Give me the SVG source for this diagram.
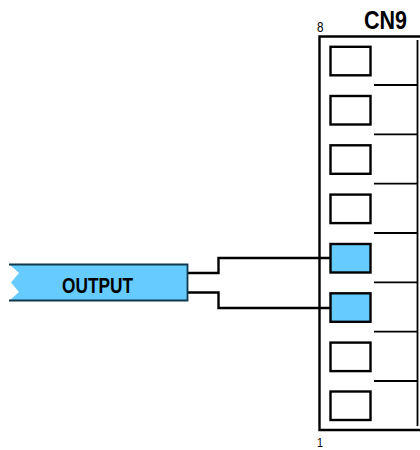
<svg xmlns="http://www.w3.org/2000/svg" width="420" height="450" viewBox="0 0 420 450">
<style>
.pin{fill:#fff;stroke:#000;stroke-width:2.4}
.on{fill:#66ccff}
.ln{fill:none;stroke:#000;stroke-width:2.4}
.th{fill:none;stroke:#000;stroke-width:1.8}
text{font-family:"Liberation Sans",Arial,sans-serif;fill:#000}
.b{font-weight:bold}
</style>
<g id="connectors">
<path class="ln" d="M188 273H218.500V258H331"/>
<path class="ln" d="M188 292.500H218.500V308H331"/>
</g>
<g id="output">
<path d="M9 264H187.500V301H9L19 292L11 282.500L19 273Z" fill="#66ccff"/>
<path d="M9 264.500H187.500V300.500H9M187.500 264.500V300.500" fill="none" stroke="#10384d" stroke-width="1.800"/>
<text class="b" x="97.500" y="292.500" font-size="21.500" text-anchor="middle" textLength="71" lengthAdjust="spacingAndGlyphs">OUTPUT</text>
</g>
<g id="cn9">
<path class="ln" d="M420 36.500H319.500V430H420"/>
<path class="th" d="M417.500 40V426"/>
<path class="th" d="M374 85H417.500M374 134.300H417.500M374 183.600H417.500M374 233H417.500M374 282.300H417.500M374 331.600H417.500M374 381H417.500"/>
<text class="b" x="385.500" y="28.500" font-size="25" text-anchor="middle" textLength="43" lengthAdjust="spacingAndGlyphs">CN9</text>
<text x="320.300" y="32" font-size="15" text-anchor="middle" textLength="6.500" lengthAdjust="spacingAndGlyphs">8</text>
<text x="320" y="447" font-size="13.500" text-anchor="middle" textLength="6" lengthAdjust="spacingAndGlyphs">1</text>
</g>
<g id="pin8"><rect class="pin" x="330.500" y="46.800" width="40" height="28.500"/></g>
<g id="pin7"><rect class="pin" x="330.500" y="96" width="40" height="28.500"/></g>
<g id="pin6"><rect class="pin" x="330.500" y="145.300" width="40" height="28.500"/></g>
<g id="pin5"><rect class="pin" x="330.500" y="194.600" width="40" height="28.500"/></g>
<g id="pin4"><rect class="pin on" x="330.500" y="244" width="40" height="28.500"/></g>
<g id="pin3"><rect class="pin on" x="330.500" y="293.300" width="40" height="28.500"/></g>
<g id="pin2"><rect class="pin" x="330.500" y="342.600" width="40" height="28.500"/></g>
<g id="pin1"><rect class="pin" x="330.500" y="391.500" width="40" height="28.500"/></g>
</svg>
